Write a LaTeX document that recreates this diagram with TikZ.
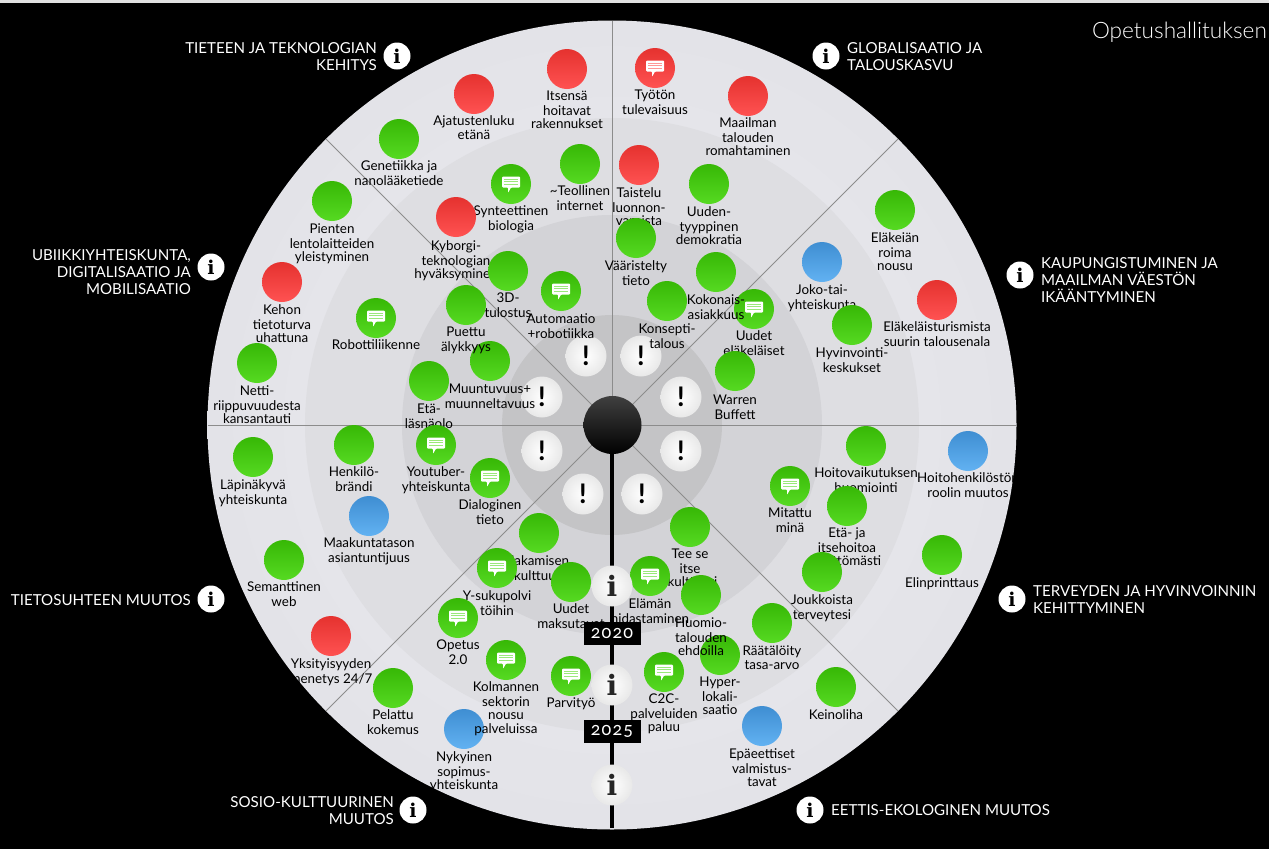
\documentclass[tikz,border=0pt]{standalone}
\usepackage{fontspec}
\setmainfont{Lato}
\newfontfamily\slabfont{DejaVu Serif}
\newfontfamily\lightfont{Lato Light}
\newfontfamily\yearfont[Numbers=OldStyle,LetterSpace=6]{Lato}
\definecolor{gA}{HTML}{37B806}\definecolor{gB}{HTML}{56DA22}
\definecolor{rA}{HTML}{E5322F}\definecolor{rB}{HTML}{FF5252}
\definecolor{bA}{HTML}{3F8ED2}\definecolor{bB}{HTML}{62B2F2}
\definecolor{ringA}{HTML}{EBEBF0}\definecolor{ringAe}{HTML}{E3E3E8}
\definecolor{ringB}{HTML}{DEDEE2}\definecolor{ringC}{HTML}{D3D3D7}\definecolor{ringD}{HTML}{C4C4C6}
\tikzset{
 bubg/.style={circle,minimum size=40pt,inner sep=0pt,top color=gA,middle color=gA,bottom color=gB},
 bubr/.style={circle,minimum size=40pt,inner sep=0pt,top color=rA,middle color=rA,bottom color=rB},
 bubb/.style={circle,minimum size=40pt,inner sep=0pt,top color=bA,middle color=bA,bottom color=bB},
 bublabel/.style={anchor=north,align=center,inner sep=0pt,text=black,font=\fontsize{13.4}{13.5}\selectfont},
 exball/.style={circle,minimum size=41pt,inner sep=0pt,inner color=white,outer color=black!9,text=black,font=\fontsize{27}{27}\bfseries\selectfont},
 infoball/.style={circle,minimum size=41pt,inner sep=0pt,inner color=white,outer color=black!9,text=black!85,font=\fontsize{28}{28}\slabfont\bfseries\selectfont},
 catinfo/.style={circle,minimum size=27pt,inner sep=0pt,fill=white,text=black,font=\fontsize{19}{19}\slabfont\bfseries\selectfont},
 catl/.style={anchor=east,align=right,inner sep=0pt,text=white,font=\fontsize{15.1}{17}\selectfont},
 catr/.style={anchor=west,align=left,inner sep=0pt,text=white,font=\fontsize{15.1}{17}\selectfont},
 yearbox/.style={fill=black,minimum width=57pt,minimum height=23pt,inner sep=0pt,text=white,font=\fontsize{18}{18}\yearfont\selectfont},
 sector/.style={draw=black!45,line width=0.8pt},
}
\newcounter{bc}
\newcommand{\bub}[5]{\stepcounter{bc}%
 \node[bub#1] (b\thebc) at (#2,#3) {};
 \node[bublabel] (l\thebc) at (#2,{#4-5.5}) {\strut #5};}
\newcommand{\chaticon}[3]{\begin{scope}[shift={(#1,#2)}]
 \fill[white,rounded corners=1pt] (-9,-7.5) -- (9,-7.5) -- (9,3.5) -- (0,3.5) -- (-3,9) -- (-3,3.5) -- (-9,3.5) -- cycle;
 \draw[#3,line width=0.7pt] (-7,-5) -- (7,-5) (-7,-2.3) -- (7,-2.3) (-7,0.4) -- (7,0.4);
 \end{scope}}
\newcommand{\bubc}[5]{\stepcounter{bc}%
 \node[bub#1] (b\thebc) at (#2,#3) {};
 \chaticon{#2}{#3}{\ifx g#1 gB!60\else rB!60\fi}
 \node[bublabel] (l\thebc) at (#2,{#4-5.5}) {\strut #5};}
\begin{document}
\begin{tikzpicture}[x=1pt,y=-1pt]
\useasboundingbox (0,0) rectangle (1269,849);
\fill[black] (0,0) rectangle (1269,849);
\fill[black!12] (0,0) rectangle (1269,3);
% rings
\fill[inner color=ringA,outer color=ringAe] (612,425) circle (404.5);
\fill[ringB] (612,425) circle (307);
\fill[ringC] (612,425) circle (210);
\fill[ringD] (612,425) circle (110);
% sector lines
\draw[sector] (612,21) -- (612,425);
\draw[sector] (207.5,425) -- (1016.5,425);
\draw[sector] (326,139) -- (898,711);
\draw[sector] (898,139) -- (326,711);
\draw[black,line width=4pt] (612,425) -- (612,828);
\node[circle,minimum size=58pt,inner sep=0pt,top color=black!75,bottom color=black] (core) at (612.5,425) {};
% exclamation balls
\node[exball] (e1) at (586,356) {!};
\node[exball] (e2) at (641,356) {!};
\node[exball] (e3) at (681,397) {!};
\node[exball] (e4) at (681,451) {!};
\node[exball] (e5) at (642,494) {!};
\node[exball] (e6) at (583,494) {!};
\node[exball] (e7) at (542,451) {!};
\node[exball] (e8) at (542,397) {!};
% bubbles
\bub{r}{567}{69}{96}{Itsensä\\hoitavat\\rakennukset}
\bub{r}{474}{94}{121}{Ajatustenluku\\etänä}
\bub{g}{399}{139}{166}{Genetiikka ja\\nanolääketiede}
\bubc{g}{511}{184}{211}{Synteettinen\\biologia}
\bub{g}{580}{164}{191}{\textasciitilde Teollinen\\internet}
\bubc{r}{655}{68}{95}{Työtön\\tulevaisuus}
\bub{r}{748}{96}{123}{Maailman\\talouden\\romahtaminen}
\bub{r}{639}{165}{193}{Taistelu\\luonnon-\\varoista}
\bub{g}{709}{184}{212}{Uuden-\\tyyppinen\\demokratia}
\bub{g}{895}{210}{238}{Eläkeiän\\roima\\nousu}
\bub{b}{822}{262}{290}{Joko-tai-\\yhteiskunta}
\bub{r}{937}{300}{327}{Eläkeläisturismista\\suurin talousenala}
\bub{g}{852}{325}{353}{Hyvinvointi-\\keskukset}
\bubc{g}{754}{309}{336}{Uudet\\eläkeläiset}
\bub{g}{716}{272}{300}{Kokonais-\\asiakkuus}
\bub{g}{636}{238}{266}{Vääristelty\\tieto}
\bub{g}{667}{301}{329}{Konsepti-\\talous}
\bub{g}{735}{371}{400}{Warren\\Buffett}
\bub{r}{456}{217}{246}{Kyborgi-\\teknologian\\hyväksyminen}
\bub{g}{508}{271}{298}{3D-\\tulostus}
\bubc{g}{561}{291}{319}{Automaatio\\+robotiikka}
\bub{g}{490}{361}{389}{Muuntuvuus+\\muunneltavuus}
\bub{g}{466}{305}{332}{Puettu\\älykkyys}
\bub{g}{429}{381}{409}{Etä-\\läsnäolo}
\bubc{g}{376}{318}{345}{Robottiliikenne}
\bub{g}{332}{201}{229}{Pienten\\lentolaitteiden\\yleistyminen}
\bub{r}{282}{282}{310}{Kehon\\tietoturva\\uhattuna}
\bub{g}{257}{363}{391}{Netti-\\riippuvuudesta\\kansantauti}
\bub{g}{253}{457}{485}{Läpinäkyvä\\yhteiskunta}
\bub{g}{354}{445}{472}{Henkilö-\\brändi}
\bubc{g}{436}{445}{472}{Youtuber-\\yhteiskunta}
\bubc{g}{490}{478}{505}{Dialoginen\\tieto}
\bub{b}{369}{516}{543}{Maakuntatason\\asiantuntijuus}
\bub{g}{284}{560}{587}{Semanttinen\\web}
\bub{g}{539}{533}{561}{Jakamisen\\kulttuuri}
\bubc{g}{497}{568}{596}{Y-sukupolvi\\töihin}
\bub{g}{571}{582}{609}{Uudet\\maksutavat}
\bubc{g}{458}{618}{645}{Opetus\\2.0}
\bub{b}{464}{729}{757}{Nykyinen\\sopimus-\\yhteiskunta}
\bubc{g}{506}{660}{687}{Kolmannen\\sektorin\\nousu\\palveluissa}
\bubc{g}{571}{676}{703}{Parvityö}
\bub{r}{331}{636}{664}{Yksityisyyden\\menetys 24/7}
\bub{g}{393}{688}{715}{Pelattu\\kokemus}
\bub{g}{690}{527}{554}{Tee se\\itse\\-kulttuuri}
\bubc{g}{650}{576}{604}{Elämän\\hidastaminen}
\bub{g}{720}{655}{682}{Hyper-\\lokali-\\saatio}
\bub{g}{701}{595}{623}{Huomio-\\talouden\\ehdoilla}
\bubc{g}{664}{672}{699}{C2C-\\palveluiden\\paluu}
\bub{g}{772}{623}{651}{Räätälöity\\tasa-arvo}
\bubc{g}{790}{486}{513}{Mitattu\\minä}
\bub{g}{866}{446}{473}{Hoitovaikutuksen\\huomiointi}
\bub{g}{847}{506}{533}{Etä- ja\\itsehoitoa\\välittömästi}
\bub{g}{822}{572}{600}{Joukkoista\\terveytesi}
\bub{b}{968}{451}{478}{Hoitohenkilöstön\\roolin muutos}
\bub{g}{942}{555}{583}{Elinprinttaus}
\bub{g}{836}{687}{715}{Keinoliha}
\bub{b}{762}{726}{754}{Epäeettiset\\valmistus-\\tavat}
% timeline
\node[infoball] (i1) at (612,586) {i};
\node[infoball] (i2) at (612,685) {i};
\node[infoball] (i3) at (612,785) {i};
\node[yearbox] (y1) at (612,633.5) {2020};
\node[yearbox] (y2) at (612,731.5) {2025};
% categories
\node[catinfo] (c1) at (397,56) {i};
\node[catl] (t1) at (377,56.5) {TIETEEN JA TEKNOLOGIAN\\KEHITYS};
\node[catinfo] (c2) at (211,267) {i};
\node[catl] (t2) at (191,272.5) {UBIIKKIYHTEISKUNTA,\\DIGITALISAATIO JA\\MOBILISAATIO};
\node[catinfo] (c3) at (211,599) {i};
\node[catl] (t3) at (191,600) {TIETOSUHTEEN MUUTOS};
\node[catinfo] (c4) at (413,810) {i};
\node[catl] (t4) at (394,810.5) {SOSIO-KULTTUURINEN\\MUUTOS};
\node[catinfo] (c5) at (826,56) {i};
\node[catr] (t5) at (847,56.5) {GLOBALISAATIO JA\\TALOUSKASVU};
\node[catinfo] (c6) at (1020,275) {i};
\node[catr] (t6) at (1041,280) {KAUPUNGISTUMINEN JA\\MAAILMAN VÄESTÖN\\IKÄÄNTYMINEN};
\node[catinfo] (c7) at (1012,599) {i};
\node[catr] (t7) at (1033,599.5) {TERVEYDEN JA HYVINVOINNIN\\KEHITTYMINEN};
\node[catinfo] (c8) at (810,810) {i};
\node[catr] (t8) at (831,810) {EETTIS-EKOLOGINEN MUUTOS};
\node[anchor=east,inner sep=0pt,text=white,font=\fontsize{22.6}{23}\lightfont\selectfont] (title) at (1267,32) {Opetushallituksen};
\end{tikzpicture}
\end{document}
